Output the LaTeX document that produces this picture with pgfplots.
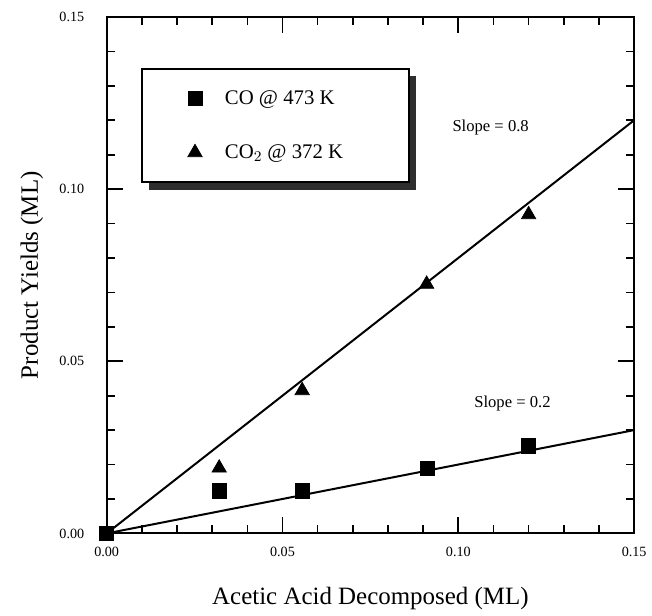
\documentclass[border=0pt]{standalone}
\usepackage{pgfplots}
\pgfplotsset{compat=1.18}
\usepackage{fontspec}
\setmainfont{Liberation Serif}
\usetikzlibrary{shadows}
\begin{document}
\begin{tikzpicture}
\begin{axis}[
  scale only axis,
  width=317.4pt, height=310.8pt,
  xmin=0, xmax=0.15, ymin=0, ymax=0.15,
  xtick={0,0.05,0.10,0.15}, ytick={0,0.05,0.10,0.15},
  minor x tick num=4, minor y tick num=4,
  tick align=inside, tick pos=both,
  major tick length=9.6pt, minor tick length=5pt,
  every tick/.style={black, line width=1pt},
  axis line style={line width=1.2pt},
  /pgf/number format/assume math mode=true,
  /pgf/number format/.cd, fixed, fixed zerofill, precision=2,
  /pgfplots/.cd,
  scaled ticks=false,
  ticklabel style={font=\fontsize{8.5}{10}\selectfont},
  xticklabel style={yshift=-4.5pt},
  yticklabel style={xshift=-10pt},
  xlabel={Acetic Acid Decomposed (ML)},
  ylabel={Product Yields (ML)},
  label style={font=\fontsize{15}{18}\selectfont},
  xlabel style={at={(axis description cs:0.5,0)}, anchor=center, yshift=-39pt},
  ylabel style={at={(axis description cs:0,0.5)}, anchor=center, rotate=0, yshift=45pt},
  legend image code/.code={\path (-10pt,0pt) (15.4pt,0pt); \draw[#1] plot coordinates {(0pt,0pt)};},
  legend style={at={(axis cs:0.0099,0.1352)}, anchor=north west,
    draw=black, line width=1.2pt, fill=white,
    inner xsep=21pt, inner ysep=11pt, row sep=18.6pt,
    font=\fontsize{12.5}{14}\selectfont,
    drop shadow={shadow xshift=4pt, shadow yshift=-4.5pt, fill=black!82, opacity=1}},
  legend cell align=left,
  clip=false,
]
\addplot[only marks, mark=square*, mark size=4.3pt, black, mark options={line width=0.4pt}]
  coordinates {(0,0) (0.032,0.0124) (0.0556,0.0124) (0.0912,0.0188) (0.120,0.0254)};
\addlegendentry{\makebox[88pt][l]{CO @ 473 K}}
\addplot[only marks, mark=triangle*, mark size=5pt, black, mark options={line width=0.4pt}]
  coordinates {(0.032,0.0190) (0.0556,0.0415) (0.091,0.0724) (0.120,0.0926)};
\addlegendentry{\makebox[88pt][l]{CO$_2$ @ 372 K}}
\addplot[black, line width=1.2pt, forget plot] coordinates {(0,0) (0.15,0.12)};
\addplot[black, line width=1.2pt, forget plot] coordinates {(0,0) (0.15,0.03)};
\node[font=\fontsize{10}{12}\selectfont] at (axis cs:0.1092,0.1179) {Slope = 0.8};
\node[font=\fontsize{10}{12}\selectfont] at (axis cs:0.1154,0.0376) {Slope = 0.2};
\end{axis}
\path (current axis.south west) ++(-64.2pt,-45pt) (current axis.north east) ++(9.6pt,10.2pt);
\end{tikzpicture}
\end{document}
